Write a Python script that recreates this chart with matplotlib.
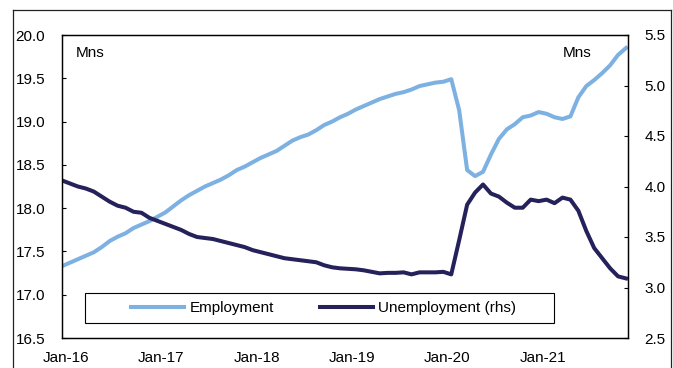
import matplotlib
matplotlib.use('Agg')
from matplotlib import pyplot as plt
from matplotlib.patches import Rectangle
from matplotlib.lines import Line2D

plt.rcParams['font.family'] = ['Liberation Sans', 'DejaVu Sans']

# monthly data, Jan-16 .. Dec-21 (millions)
employment = [
    17.33, 17.37, 17.41, 17.45, 17.49, 17.55, 17.62, 17.67, 17.71, 17.77, 17.81, 17.85,
    17.90, 17.95, 18.02, 18.09, 18.15, 18.20, 18.25, 18.29, 18.33, 18.38, 18.44, 18.48,
    18.53, 18.58, 18.62, 18.66, 18.72, 18.78, 18.82, 18.85, 18.90, 18.96, 19.00, 19.05,
    19.09, 19.14, 19.18, 19.22, 19.26, 19.29, 19.32, 19.34, 19.37, 19.41, 19.43, 19.45,
    19.46, 19.49, 19.13, 18.44, 18.37, 18.42, 18.62, 18.80, 18.91, 18.97, 19.05, 19.07,
    19.11, 19.09, 19.05, 19.03, 19.06, 19.28, 19.41, 19.48, 19.56, 19.65, 19.77, 19.85,
]
unemployment = [
    4.06, 4.03, 4.00, 3.98, 3.95, 3.90, 3.85, 3.81, 3.79, 3.75, 3.74, 3.69,
    3.66, 3.63, 3.60, 3.57, 3.53, 3.50, 3.49, 3.48, 3.46, 3.44, 3.42, 3.40,
    3.37, 3.35, 3.33, 3.31, 3.29, 3.28, 3.27, 3.26, 3.25, 3.22, 3.20, 3.19,
    3.185, 3.18, 3.17, 3.155, 3.14, 3.145, 3.145, 3.15, 3.13, 3.15, 3.15, 3.15,
    3.155, 3.13, 3.47, 3.82, 3.94, 4.02, 3.93, 3.90, 3.84, 3.79, 3.79, 3.87,
    3.855, 3.87, 3.835, 3.89, 3.87, 3.76, 3.56, 3.39, 3.29, 3.19, 3.11, 3.09,
]
year_labels = ['Jan-16', 'Jan-17', 'Jan-18', 'Jan-19', 'Jan-20', 'Jan-21']
left_ticks = [16.5, 17.0, 17.5, 18.0, 18.5, 19.0, 19.5, 20.0]
right_ticks = [2.5, 3.0, 3.5, 4.0, 4.5, 5.0, 5.5]

months = list(range(len(employment)))
emp_color = '#7db1e2'
unemp_color = '#25215a'

W, H = 673, 368
fig = plt.figure(figsize=(W / 100, H / 100), dpi=100)

# outer frame of the chart box
fig.add_artist(Line2D([13 / W, 13 / W], [0, 1 - 10 / H], color='#222222', lw=0.9))
fig.add_artist(Line2D([13 / W, 671 / W], [1 - 10 / H, 1 - 10 / H], color='#222222', lw=0.9))
fig.add_artist(Line2D([671 / W, 671 / W], [0, 1 - 10 / H], color='#222222', lw=0.9))

ax = fig.add_axes([62 / W, 30 / H, 566 / W, 303 / H])
ax2 = ax.twinx()

ax.plot(months, employment, color=emp_color, lw=2.9, solid_joinstyle='round')
ax2.plot(months, unemployment, color=unemp_color, lw=2.9, solid_joinstyle='round')

ax.set_xlim(0, 71.25)
ax.set_ylim(16.5, 20.0)
ax2.set_ylim(2.5, 5.5)

ax.set_yticks(left_ticks)
ax.set_yticklabels(['%.1f' % v for v in left_ticks])
ax2.set_yticks(right_ticks)
ax2.set_yticklabels(['%.1f' % v for v in right_ticks])
ax.set_xticks([12 * i + 0.5 for i in range(len(year_labels))])
ax.set_xticklabels(year_labels)

ax.tick_params(axis='y', direction='in', length=3, width=0.8, labelsize=11, pad=12)
ax2.tick_params(axis='y', direction='in', length=3, width=0.8, labelsize=11, pad=12)
ax.tick_params(axis='x', length=0, labelsize=11, pad=9)
for a in (ax, ax2):
    for s in a.spines.values():
        s.set_linewidth(0.9)
        s.set_color('black')

ax.text(0.025, 0.94, 'Mns', transform=ax.transAxes, fontsize=11, va='center', ha='left')
ax.text(0.885, 0.94, 'Mns', transform=ax.transAxes, fontsize=11, va='center', ha='left')

# legend box
ax2.add_patch(Rectangle((0.0406, 0.0495), 0.8286, 0.099, transform=ax.transAxes,
                        facecolor='white', edgecolor='black', lw=0.8, zorder=5))
handles = [Line2D([], [], color=emp_color, lw=2.9), Line2D([], [], color=unemp_color, lw=2.9)]
leg = ax2.legend(handles, ['Employment', 'Unemployment (rhs)'], loc='center',
                 bbox_to_anchor=(0.462, 0.099), ncol=2, frameon=False, fontsize=11,
                 handlelength=3.5, handletextpad=0.35, columnspacing=3.0)
leg.set_zorder(6)

fig.savefig('out.png', dpi=100)
